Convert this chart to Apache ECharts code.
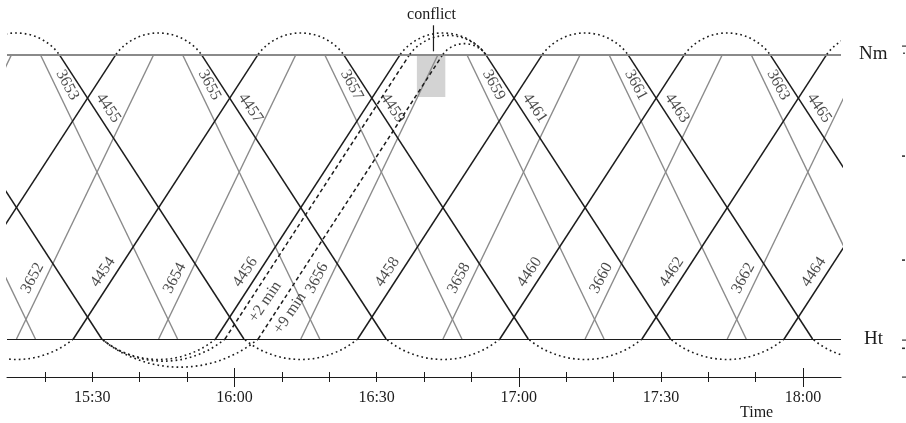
<!DOCTYPE html>
<html><head><meta charset="utf-8">
<script src="https://cdn.jsdelivr.net/npm/echarts@6/dist/echarts.min.js"></script>
<style>html,body{margin:0;padding:0;background:#fff}#c{width:906px;height:423px}</style>
</head><body><div id="c"></div>
<script>
// ---------------- data ----------------
const axisStart = '15:12', axisEnd = '18:08';
const minorTicks = ['15:20','15:30','15:40','15:50','16:00','16:10','16:20','16:30','16:40','16:50','17:00','17:10','17:20','17:30','17:40','17:50','18:00'];
const majorTicks = ['16:00','17:00','18:00'];
const tickLabels = ['15:30','16:00','16:30','17:00','17:30','18:00'];

const stationNames = ['Ht','Nm'];
const stationDist = [0, 1];

// black trains (44xx)
const blackUpNames = ['4452','4454','4456','4458','4460','4462','4464'];
const blackUpDep   = ['14:56','15:26','15:56','16:26','16:56','17:26','17:56']; // from Ht
const blackUpArr   = ['15:35','16:05','16:35','17:05','17:35','18:05','18:35']; // at Nm
const blackDownNames = ['4453','4455','4457','4459','4461','4463','4465'];
const blackDownDep   = ['14:53','15:23','15:53','16:23','16:53','17:23','17:53']; // from Nm
const blackDownArr   = ['15:32','16:02','16:32','17:02','17:32','18:02','18:32']; // at Ht
// grey trains (36xx)
const greyUpNames = ['3650','3652','3654','3656','3658','3660','3662'];
const greyUpDep   = ['14:44','15:14','15:44','16:14','16:44','17:14','17:44'];
const greyUpArr   = ['15:13','15:43','16:13','16:43','17:13','17:43','18:13'];
const greyDownNames = ['3651','3653','3655','3657','3659','3661','3663'];
const greyDownDep   = ['14:49','15:19','15:49','16:19','16:49','17:19','17:49'];
const greyDownArr   = ['15:18','15:48','16:18','16:48','17:18','17:48','18:18'];
const hiddenLabels = ['4452','4453','3650','3651'];

// turnarounds (dotted connections)
const turnNmArr = ['15:05','15:35','16:05','16:35','17:05','17:35','18:05','16:37','16:44'];
const turnNmDep = ['15:23','15:53','16:23','16:53','17:23','17:53','18:23','16:53','16:53'];
const turnHtArr = ['15:02','15:32','16:02','16:32','17:02','17:32','18:02','15:32','15:32'];
const turnHtDep = ['15:26','15:56','16:26','16:56','17:26','17:56','18:26','15:58','16:05'];

// delayed variants of 4456
const delayNames = ['+2 min','+9 min'];
const delayDep = ['15:58','16:05'];
const delayArr = ['16:37','16:44'];

// conflict zone
const conflictText = 'conflict';
const conflictFrom = '16:38:30', conflictTo = '16:44:30';
const conflictDist = [0.85, 1];
const conflictMark = '16:42';

// ---------------- helpers ----------------
const toMin = s => { const p = s.split(':').map(Number); return p[0]*60 + p[1] + (p[2]||0)/60; };
const fmt = m => Math.floor(m/60) + ':' + String(Math.round(m % 60)).padStart(2,'0');
const X0 = toMin(axisStart), X1 = toMin(axisEnd);
const Y0 = -0.1335, Y1 = 1.0994;
const INK = '#1c1c1c', GREY = '#8a8a8a';
const FONT = "'Liberation Serif','Times New Roman',serif";
const SAG_TOP = 0.25, SAG_BOT = 0.18;

const series = [];

// conflict rectangle
series.push({
  type:'custom', z:1, silent:true, animation:false,
  data:[[toMin(conflictFrom), toMin(conflictTo), conflictDist[0], conflictDist[1]]],
  encode:{x:[0,1], y:[2,3]},
  renderItem(params, api){
    const a = api.coord([api.value(0), api.value(3)]);
    const b = api.coord([api.value(1), api.value(2)]);
    return {type:'rect', shape:{x:a[0], y:a[1], width:b[0]-a[0], height:b[1]-a[1]}, style:{fill:'#d3d3d3'}};
  }
});

// station lines
series.push({
  type:'line', data:[], z:2, silent:true, animation:false,
  markLine:{
    symbol:'none', silent:true, animation:false,
    data:[
      {yAxis: stationDist[1], lineStyle:{color:GREY, width:2, type:'solid'},
       label:{formatter: stationNames[1], position:'end', distance:18, fontSize:19, color:INK, fontFamily:FONT}},
      {yAxis: stationDist[0], lineStyle:{color:INK, width:1.2, type:'solid'},
       label:{formatter: stationNames[0], position:'end', distance:23, fontSize:19, color:INK, fontFamily:FONT}}
    ]
  }
});

function trains(deps, arrs, fromD, toD, color, width, type, z){
  deps.forEach((d,i) => series.push({
    type:'line', data:[[toMin(d), fromD],[toMin(arrs[i]), toD]],
    showSymbol:false, symbol:'none', silent:true, animation:false, z,
    lineStyle:{color, width, type}
  }));
}
trains(greyUpDep, greyUpArr, 0, 1, GREY, 1.4, 'solid', 3);
trains(greyDownDep, greyDownArr, 1, 0, GREY, 1.4, 'solid', 3);
trains(blackUpDep, blackUpArr, 0, 1, INK, 1.5, 'solid', 4);
trains(blackDownDep, blackDownArr, 1, 0, INK, 1.5, 'solid', 4);
trains(delayDep, delayArr, 0, 1, INK, 1.5, [4,3], 4);

// dotted turnaround arcs
const arcData = [];
turnNmArr.forEach((a,i) => arcData.push([toMin(a), toMin(turnNmDep[i]), 1]));
turnHtArr.forEach((a,i) => arcData.push([toMin(a), toMin(turnHtDep[i]), 0]));
series.push({
  type:'custom', z:5, silent:true, animation:false, clip:true,
  data: arcData, encode:{x:[0,1], y:2},
  renderItem(params, api){
    const st = api.value(2);
    const p1 = api.coord([api.value(0), st]);
    const p2 = api.coord([api.value(1), st]);
    const top = st === 1;
    const w = p2[0]-p1[0];
    const s = w * (top ? SAG_TOP : SAG_BOT);
    const R = (w*w/4 + s*s)/(2*s);
    const cx = (p1[0]+p2[0])/2;
    const cy = top ? p1[1] + (R - s) : p1[1] - (R - s);
    const a1 = Math.atan2(p1[1]-cy, p1[0]-cx), a2 = Math.atan2(p2[1]-cy, p2[0]-cx);
    const cs = params.coordSys;
    return {
      type:'arc',
      shape: top ? {cx, cy, r:R, startAngle:a1, endAngle:a2, clockwise:true}
                 : {cx, cy, r:R, startAngle:a2, endAngle:a1, clockwise:true},
      style:{stroke:INK, fill:null, lineWidth:1.6, lineDash:[1.7,3.1]},
      clipPath:{type:'rect', shape:{x:cs.x, y:cs.y, width:cs.width, height:cs.height}}
    };
  }
});

// train number labels
const labelData = [];
function labels(names, deps, arrs, up, frac, shiftMin, rot){
  names.forEach((n,i) => {
    if (hiddenLabels.includes(n)) return;
    const t0 = toMin(deps[i]), tr = toMin(arrs[i]) - t0;
    labelData.push({value:[t0 + frac*tr + shiftMin, up ? frac : 1 - frac], name:n, label:{rotate:rot}});
  });
}
labels(greyUpNames, greyUpDep, greyUpArr, true, 0.214, -2.8, 62);
labels(blackUpNames, blackUpDep, blackUpArr, true, 0.235, -2.9, 56);
labels(greyDownNames, greyDownDep, greyDownArr, false, 0.108, 2.6, -62);
labels(blackDownNames, blackDownDep, blackDownArr, false, 0.189, 3.0, -56);
labels([delayNames[0]], [delayDep[0]], [delayArr[0]], true, 0.13, 3.4, 56);
labels([delayNames[1]], [delayDep[1]], [delayArr[1]], true, 0.09, 3.2, 56);
series.push({
  type:'scatter', z:10, silent:true, animation:false, symbolSize:2,
  itemStyle:{color:'rgba(255,255,255,0)'},
  label:{show:true, position:'inside', formatter: p => p.name, align:'center', verticalAlign:'middle', fontSize:16, color:INK, fontFamily:FONT},
  labelLayout:{hideOverlap:false},
  data: labelData
});

// conflict marker
series.push({
  type:'custom', z:11, silent:true, animation:false, clip:false,
  data:[[toMin(conflictMark), 1]], encode:{x:0, y:1},
  renderItem(params, api){
    const p = api.coord([api.value(0), api.value(1)]);
    return {type:'group', children:[
      {type:'line', shape:{x1:p[0], y1:p[1]-29, x2:p[0], y2:p[1]-3}, style:{stroke:INK, lineWidth:1.2}},
      {type:'text', style:{text:conflictText, x:p[0]-2, y:p[1]-40, align:'center', verticalAlign:'middle', fontSize:16, fontFamily:FONT, fill:INK}}
    ]};
  }
});

const baseX = {type:'value', min:X0, max:X1, position:'bottom', gridIndex:0,
  splitLine:{show:false}, axisLine:{show:false, onZero:false}, axisLabel:{show:false}, axisTick:{show:false}};
const tick = (vals, len, inside) => ({show:true, length:len, inside, customValues: vals.map(toMin), lineStyle:{color:INK, width:1}});

const chart = echarts.init(document.getElementById('c'), null, {renderer:'canvas'});
chart.setOption({
  backgroundColor:'#fff',
  animation:false,
  grid:{left:7, right:65, top:26, bottom:46, containLabel:false, outerBoundsMode:'none'},
  xAxis:[
    Object.assign({}, baseX, {
      axisLine:{show:true, onZero:false, lineStyle:{color:INK, width:1}},
      axisTick: tick(minorTicks, 5, false),
      axisLabel:{show:true, customValues: tickLabels.map(toMin), formatter: v => fmt(v), margin:13, fontSize:16, fontFamily:FONT, color:INK}
    }),
    Object.assign({}, baseX, {axisTick: tick(minorTicks, 5, true)}),
    Object.assign({}, baseX, {axisTick: tick(majorTicks, 10, false)}),
    Object.assign({}, baseX, {axisTick: tick(majorTicks, 9, true)})
  ],
  yAxis:{type:'value', min:Y0, max:Y1, show:false, splitLine:{show:false}},
  graphic:[
    {type:'text', left:740, top:405, style:{text:'Time', fontSize:16, fontFamily:FONT, fill:INK}},
    {type:'rect', shape:{x:902, y:45.5, width:4, height:1.2}, style:{fill:'#333'}},
    {type:'rect', shape:{x:903, y:52.5, width:2, height:1.4}, style:{fill:'#555'}},
    {type:'rect', shape:{x:902, y:155.3, width:3, height:1.6}, style:{fill:'#333'}},
    {type:'rect', shape:{x:902, y:259.3, width:3, height:1.6}, style:{fill:'#333'}},
    {type:'rect', shape:{x:902, y:339.5, width:4, height:1.2}, style:{fill:'#333'}},
    {type:'rect', shape:{x:902, y:347.5, width:3, height:1.6}, style:{fill:'#333'}},
    {type:'rect', shape:{x:902, y:376.5, width:4, height:1.2}, style:{fill:'#333'}}
  ],
  series
});
</script></body></html>
